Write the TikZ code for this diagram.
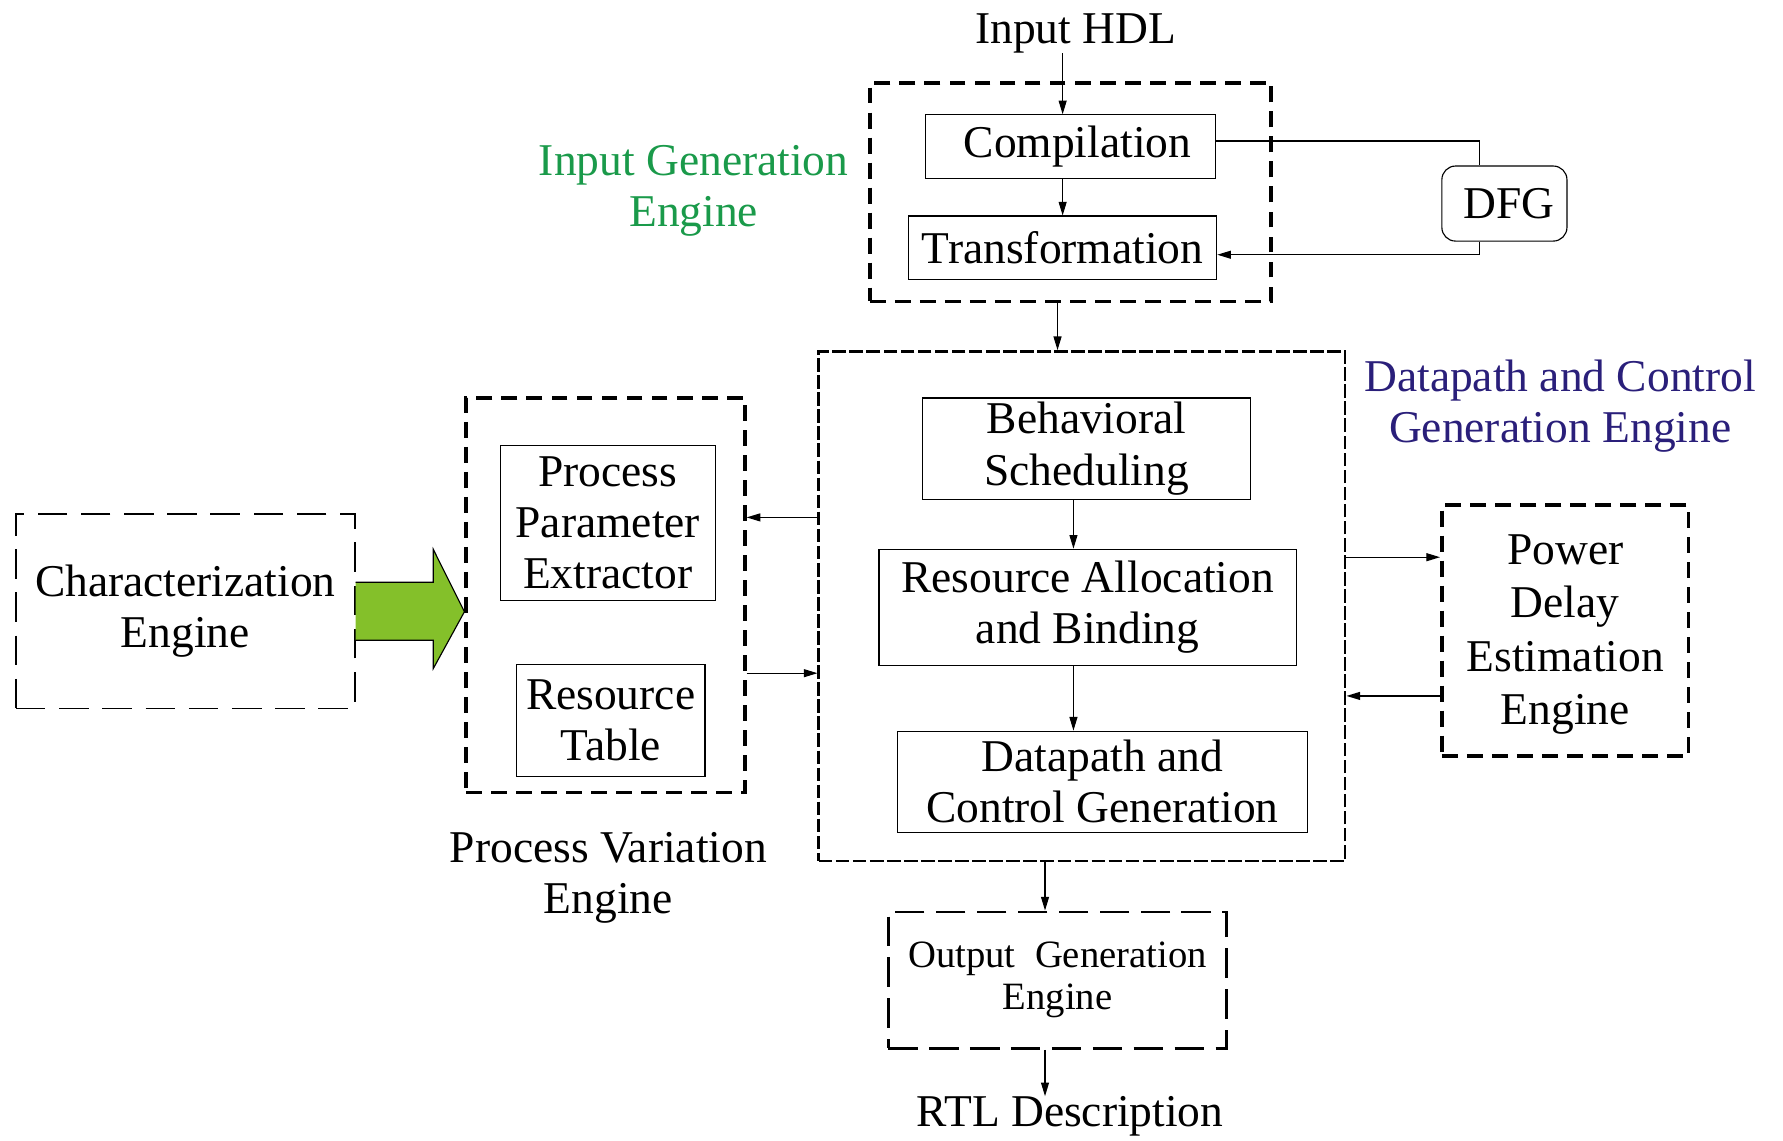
\documentclass[tikz,border=0pt]{standalone}
\usepackage{fontspec}
\setmainfont{Liberation Serif}
\usepackage{xcolor}
\usetikzlibrary{positioning,arrows.meta,calc}

\definecolor{enggreen}{RGB}{26,154,74}
\definecolor{engnavy}{RGB}{42,31,122}
\definecolor{arrgreen}{RGB}{132,192,42}

\begin{document}
\begin{tikzpicture}[
  x=0.5pt, y=-0.5pt,
  font=\fontsize{20}{22.5}\selectfont,
  box/.style={draw, line width=0.5pt, inner sep=0pt, align=center},
  engine/.style={draw, line width=1.6pt, dash pattern=on 7pt off 4pt,
                 inner sep=0pt, align=center},
  label/.style={align=center, inner sep=0pt},
  arr/.style={-{Triangle[length=6pt,width=3.5pt]}, line width=0.5pt},
  >=Stealth
]
  \useasboundingbox (0,0) rectangle (1568,1003);

  % Input generation engine
  \node[label] (inhdl) at (946,29) {Input HDL};
  \node[engine, minimum width=176.5pt, minimum height=96pt] (igen)
    at (941.5,169) {};
  \node[box, minimum width=127.5pt, minimum height=28pt] (comp)
    at (941.5,129) {\hspace*{6pt}Compilation};
  \node[box, minimum width=135.5pt, minimum height=28pt] (trans)
    at (934.5,218) {Transformation};
  \node[box, rounded corners=6pt, minimum width=55pt, minimum height=33pt]
    (dfg) at (1323,179) {\hspace*{4pt}DFG};
  \node[label, text=enggreen] (iglabel) at (610,168)
    {Input Generation\\Engine};

  % Datapath and control generation engine
  \node[draw, line width=1.1pt, dash pattern=on 6pt off 1.5pt,
        minimum width=231.5pt, minimum height=224pt] (dcbox)
    at (951.5,533) {};
  \node[label, text=engnavy] (dclabel) at (1372,357)
    {Datapath and Control\\Generation Engine};
  \node[box, minimum width=144.5pt, minimum height=44.5pt] (sched)
    at (955.5,394.5) {Behavioral\\Scheduling};
  \node[box, minimum width=183.5pt, minimum height=51pt] (alloc)
    at (956.5,534) {Resource Allocation\\and Binding};
  \node[box, minimum width=180.5pt, minimum height=44.5pt] (dpgen)
    at (969.5,687.5) {Datapath and\\Control Generation};

  % Power / delay estimation
  \node[engine, minimum width=108.5pt, minimum height=110.5pt] (power)
    at (1376.5,554.5) {};
  \node[label, font=\fontsize{20}{23.5}\selectfont] (powertxt)
    at (1376.5,558) {Power\\Delay\\Estimation\\Engine};

  % Process variation engine
  \node[engine, minimum width=122.5pt, minimum height=173.5pt] (pvbox)
    at (532.5,523.5) {};
  \node[box, minimum width=94.5pt, minimum height=68pt] (ppe)
    at (534.5,460) {Process\\Parameter\\Extractor};
  \node[box, minimum width=83pt, minimum height=49.5pt] (rtab)
    at (537,633.5) {Resource\\Table};
  \node[label] (pvlabel) at (535,772) {Process Variation\\Engine};

  % Characterization engine
  \node[draw, line width=0.8pt, dash pattern=on 13pt off 6pt,
        minimum width=149pt, minimum height=85.5pt, align=center] (char)
    at (163,537.5) {Characterization\\Engine};

  % Output generation engine
  \node[draw, line width=1.3pt, dash pattern=on 13pt off 5pt,
        minimum width=149pt, minimum height=60pt, align=center,
        font=\fontsize{17}{18.5}\selectfont] (outgen)
    at (930,862) {Output\ \ Generation\\Engine};
  \node[label, anchor=north] (rtl) at (941,964) {RTL Description};

  % Big green arrow
  \draw[fill=arrgreen, line width=0.5pt]
    (char.east |- 0,512) -- (381,512) -- (381,483) -- (pvbox.west |- 0,538)
    -- (381,588) -- (381,563) -- (char.east |- 0,563);

  % Arrows
  \draw[arr] (inhdl.south -| trans.north) -- (trans.north |- comp.north);
  \draw[arr] (trans.north |- comp.south) -- (trans.north);
  \draw[line width=0.5pt] ([yshift=2.5pt]comp.east) -| ([xshift=-11pt]dfg.north);
  \draw[arr] ([xshift=-11pt]dfg.south) |- ([yshift=-3pt]trans.east);
  \draw[arr] ([xshift=-5.75pt]igen.south)
    -- ([xshift=-5.75pt]igen.south |- dcbox.north);
  \draw[arr] ([xshift=-5.75pt]sched.south)
    -- ([xshift=-5.75pt]sched.south |- alloc.north);
  \draw[arr] ([xshift=-6.25pt]alloc.south)
    -- ([xshift=-6.25pt]alloc.south |- dpgen.north);
  \draw[arr] ([yshift=21.5pt]dcbox.east)
    -- ([yshift=21.5pt]dcbox.east -| power.west);
  \draw[arr] ([yshift=-39.5pt]dcbox.east -| power.west)
    -- ([yshift=-39.5pt]dcbox.east);
  \draw[arr] ([yshift=39pt]dcbox.west)
    -- ([yshift=39pt]dcbox.west -| pvbox.east);
  \draw[arr] ([yshift=-29.5pt]dcbox.west -| pvbox.east)
    -- ([yshift=-29.5pt]dcbox.west);
  \draw[arr] ([xshift=-5.5pt]outgen.north |- dcbox.south)
    -- ([xshift=-5.5pt]outgen.north);
  \draw[arr] ([xshift=-5.5pt]outgen.south)
    -- ([xshift=-5.5pt]outgen.south |- rtl.north);
\end{tikzpicture}
\end{document}
